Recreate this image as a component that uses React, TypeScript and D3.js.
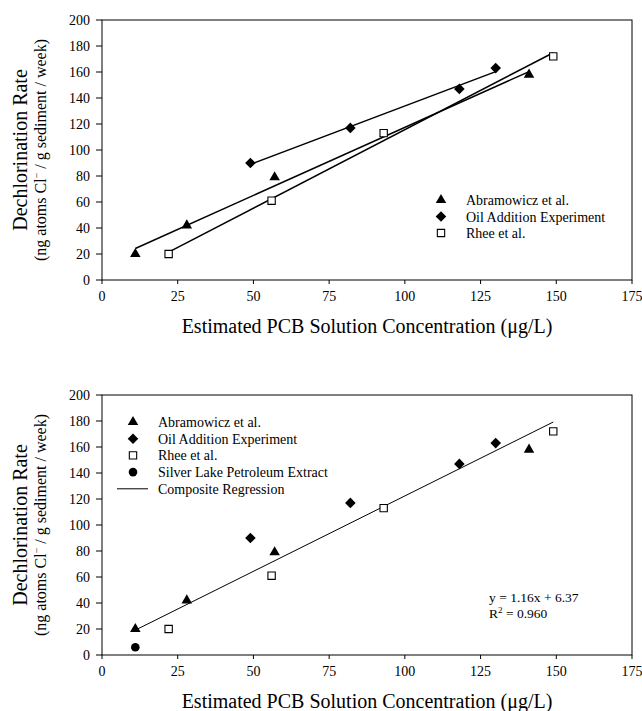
import * as d3 from "d3";

const abramX = [11, 28, 57, 141];
const abramY = [20, 42, 79, 158];
const oilX = [49, 82, 118, 130];
const oilY = [90, 117, 147, 163];
const rheeX = [22, 56, 93, 149];
const rheeY = [20, 61, 113, 172];
const silverX = [11];
const silverY = [6];

const compositeSlope = 1.16;
const compositeIntercept = 6.37;
const compositeRange = [11, 149];

const xTicks = [0, 25, 50, 75, 100, 125, 150, 175];
const yTicks = [0, 20, 40, 60, 80, 100, 120, 140, 160, 180, 200];

const FONT = "Liberation Serif, Times New Roman, serif";
const LEFT = 102;
const RIGHT = 632;

const fit = (xs: number[], ys: number[]) => {
  const mx = d3.mean(xs)!;
  const my = d3.mean(ys)!;
  const sxy = d3.sum(xs, (x, i) => (x - mx) * (ys[i] - my));
  const sxx = d3.sum(xs, (x) => (x - mx) ** 2);
  const slope = sxy / sxx;
  return { slope, intercept: my - slope * mx };
};

const triangle = d3.symbol(d3.symbolTriangle, 48)()!;
const diamond = d3.symbol(d3.symbolSquare, 56)()!;
const square = d3.symbol(d3.symbolSquare, 54)()!;
const circle = d3.symbol(d3.symbolCircle, 58)()!;

type Kind = "tri" | "dia" | "sq" | "circ";

const Marker = ({ kind, x, y }: { kind: Kind; x: number; y: number }) => {
  if (kind === "tri") return <path d={triangle} transform={`translate(${x},${y})`} fill="black" />;
  if (kind === "dia") return <path d={diamond} transform={`translate(${x},${y}) rotate(45)`} fill="black" />;
  if (kind === "sq")
    return <path d={square} transform={`translate(${x},${y})`} fill="white" stroke="black" strokeWidth={1.1} />;
  return <path d={circle} transform={`translate(${x},${y})`} fill="black" />;
};

const Panel = ({ top, composite }: { top: number; composite: boolean }) => {
  const bottom = top + 260;
  const x = d3.scaleLinear().domain([0, 175]).range([LEFT, RIGHT]);
  const y = d3.scaleLinear().domain([0, 200]).range([bottom, top]);

  const series: { xs: number[]; ys: number[]; kind: Kind; name: string }[] = [
    { xs: abramX, ys: abramY, kind: "tri", name: "Abramowicz et al." },
    { xs: oilX, ys: oilY, kind: "dia", name: "Oil Addition Experiment" },
    { xs: rheeX, ys: rheeY, kind: "sq", name: "Rhee et al." },
  ];
  if (composite) series.push({ xs: silverX, ys: silverY, kind: "circ", name: "Silver Lake Petroleum Extract" });

  const line = d3
    .line<number[]>()
    .x((d) => x(d[0]))
    .y((d) => y(d[1]));

  const fits = composite
    ? [
        line([
          [compositeRange[0], compositeSlope * compositeRange[0] + compositeIntercept],
          [compositeRange[1], compositeSlope * compositeRange[1] + compositeIntercept],
        ]),
      ]
    : series.map((s) => {
        const f = fit(s.xs, s.ys);
        const [a, b] = d3.extent(s.xs) as [number, number];
        return line([
          [a, f.slope * a + f.intercept],
          [b, f.slope * b + f.intercept],
        ]);
      });

  const legendX = composite ? 133 : 441;
  const legendY = composite ? top + 27 : top + 180;
  const step = composite ? 16.7 : 16.5;
  const midY = (top + bottom) / 2;

  return (
    <g style={{ fontFamily: FONT }} fill="black">
      <rect x={LEFT} y={top} width={RIGHT - LEFT} height={260} fill="none" stroke="black" strokeWidth={1} />
      {yTicks.map((t) => (
        <g key={t}>
          <line x1={LEFT - 6} x2={LEFT} y1={y(t)} y2={y(t)} stroke="black" />
          <text x={90} y={y(t) + 5} textAnchor="end" fontSize={14}>
            {t}
          </text>
        </g>
      ))}
      {xTicks.map((t) => (
        <g key={t}>
          <line x1={x(t)} x2={x(t)} y1={bottom} y2={bottom + 4} stroke="black" />
          <text x={x(t)} y={bottom + 21} textAnchor="middle" fontSize={14}>
            {t}
          </text>
        </g>
      ))}
      <text x={(LEFT + RIGHT) / 2} y={bottom + 53} textAnchor="middle" fontSize={20}>
        Estimated PCB Solution Concentration (μg/L)
      </text>
      <text transform={`translate(27,${midY}) rotate(-90)`} textAnchor="middle" fontSize={20}>
        Dechlorination Rate
      </text>
      <text transform={`translate(46,${midY}) rotate(-90)`} textAnchor="middle" fontSize={16}>
        (ng atoms Cl
        <tspan dy={-6} fontSize={10}>
          −
        </tspan>
        <tspan dy={6}> / g sediment / week)</tspan>
      </text>

      {fits.map((d, i) => (
        <path key={i} d={d!} fill="none" stroke="black" strokeWidth={composite ? 1 : 1.5} />
      ))}
      {series.map((s) =>
        s.xs.map((v, i) => <Marker key={s.name + i} kind={s.kind} x={x(v)} y={y(s.ys[i])} />)
      )}

      {series.map((s, i) => (
        <g key={s.name}>
          <Marker kind={s.kind} x={legendX} y={legendY + i * step} />
          <text x={legendX + 25} y={legendY + i * step + 5} fontSize={14}>
            {s.name}
          </text>
        </g>
      ))}
      {composite && (
        <g>
          <line
            x1={legendX - 16}
            x2={legendX + 15}
            y1={legendY + 4 * step}
            y2={legendY + 4 * step}
            stroke="black"
          />
          <text x={legendX + 25} y={legendY + 4 * step + 5} fontSize={14}>
            Composite Regression
          </text>
          <text x={489} y={top + 207} fontSize={13.5}>
            y = {compositeSlope}x + {compositeIntercept}
          </text>
          <text x={489} y={top + 223} fontSize={13.5}>
            R
            <tspan dy={-5} fontSize={9}>
              2
            </tspan>
            <tspan dy={5}> = 0.960</tspan>
          </text>
        </g>
      )}
    </g>
  );
};

export default function App() {
  return (
    <div style={{ position: "absolute", left: 0, top: 0 }}>
      <svg width={642} height={711} style={{ display: "block", background: "white" }}>
        <Panel top={20} composite={false} />
        <Panel top={395} composite={true} />
      </svg>
    </div>
  );
}
